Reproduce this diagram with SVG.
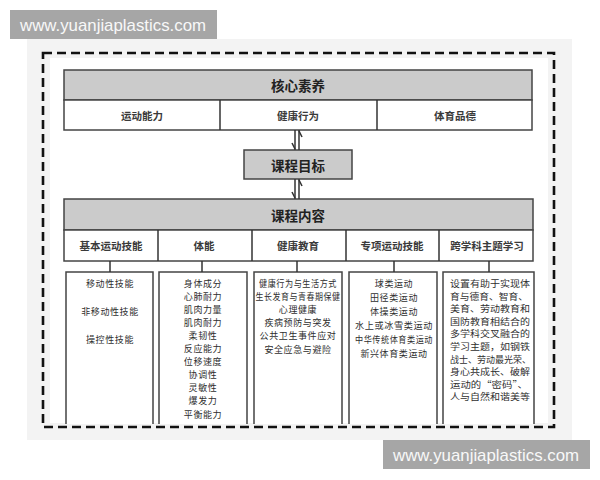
<svg xmlns="http://www.w3.org/2000/svg" width="600" height="480" viewBox="0 0 600 480">
<defs>
<style>
.bg{fill:#f3f3f3}
.wm{fill:#a6a6a6}
.wmt{fill:#f8f8f8;font-family:"Liberation Sans",Arial,sans-serif;font-size:17px}
.hdr{fill:#cbcbcb;stroke:#444;stroke-width:1.5}
.cell{fill:#fff;stroke:#444;stroke-width:1.5}
.box{fill:#fff;stroke:#444;stroke-width:1.5}
.t{font-family:"Noto Sans CJK SC","Noto Sans",sans-serif;fill:#333;text-anchor:middle;dominant-baseline:central}
.th{font-size:13.5px;font-weight:bold;fill:#222}
.tr{font-size:10.5px;font-weight:bold;fill:#3a3a3a}
.tb{font-size:9px;letter-spacing:0.6px;fill:#2e2e2e}
.tl{font-family:"Noto Sans CJK SC","Noto Sans",sans-serif;fill:#2e2e2e;font-size:8.6px;dominant-baseline:central}
.ln{stroke:#333;stroke-width:1.5;fill:none}
.dash{fill:none;stroke:#111;stroke-width:2.6;stroke-dasharray:9 5}
</style>
</defs>

<rect class="bg" x="27" y="39" width="545" height="401"/>
<rect x="50" y="58" width="498" height="365" fill="#ffffff"/>
<rect class="dash" x="43" y="53" width="511" height="374"/>

<g id="watermark-top">
<rect class="wm" x="10" y="10" width="207" height="29"/>
<text class="wmt" x="20" y="31" textLength="186" lengthAdjust="spacingAndGlyphs">www.yuanjiaplastics.com</text>
</g>
<g id="watermark-bottom">
<rect class="wm" x="383" y="440" width="207" height="29"/>
<text class="wmt" x="393" y="461" textLength="186" lengthAdjust="spacingAndGlyphs">www.yuanjiaplastics.com</text>
</g>

<g id="core">
<rect class="hdr" x="64" y="70" width="468" height="30"/>
<rect class="cell" x="64" y="100" width="468" height="30"/>
<line class="ln" x1="220" y1="100" x2="220" y2="130"/>
<line class="ln" x1="377" y1="100" x2="377" y2="130"/>
<text class="t th" x="298" y="85">核心素养</text>
<text class="t tr" x="142" y="115">运动能力</text>
<text class="t tr" x="298" y="115">健康行为</text>
<text class="t tr" x="455" y="115">体育品德</text>
</g>

<g id="goals">
<rect class="hdr" x="244" y="150" width="108" height="29"/>
<text class="t th" x="298" y="165">课程目标</text>
</g>

<g id="content">
<rect class="hdr" x="64" y="199" width="469" height="31"/>
<rect class="cell" x="64" y="230" width="469" height="31"/>
<line class="ln" x1="158" y1="230" x2="158" y2="261"/>
<line class="ln" x1="252" y1="230" x2="252" y2="261"/>
<line class="ln" x1="346" y1="230" x2="346" y2="261"/>
<line class="ln" x1="439" y1="230" x2="439" y2="261"/>
<text class="t th" x="298" y="215">课程内容</text>
<text class="t tr" x="111" y="245">基本运动技能</text>
<text class="t tr" x="204" y="245">体能</text>
<text class="t tr" x="298" y="245">健康教育</text>
<text class="t tr" x="392" y="245">专项运动技能</text>
<text class="t tr" x="487" y="245">跨学科主题学习</text>
</g>

<g id="box-basic">
<path class="box" d="M66,424 V272 H153 V424"/>
<text class="t tb" x="110" y="283">移动性技能</text>
<text class="t tb" x="110" y="311">非移动性技能</text>
<text class="t tb" x="110" y="339">操控性技能</text>
</g>

<g id="box-fitness">
<path class="box" d="M159,424 V272 H247 V424"/>
<text class="t tb" x="203" y="283">身体成分</text>
<text class="t tb" x="203" y="296.1">心肺耐力</text>
<text class="t tb" x="203" y="309.2">肌肉力量</text>
<text class="t tb" x="203" y="322.3">肌肉耐力</text>
<text class="t tb" x="203" y="335.4">柔韧性</text>
<text class="t tb" x="203" y="348.5">反应能力</text>
<text class="t tb" x="203" y="361.6">位移速度</text>
<text class="t tb" x="203" y="374.7">协调性</text>
<text class="t tb" x="203" y="387.8">灵敏性</text>
<text class="t tb" x="203" y="400.9">爆发力</text>
<text class="t tb" x="203" y="414">平衡能力</text>
</g>

<g id="box-health">
<path class="box" d="M254,424 V272 H342 V424"/>
<text class="t tb" x="298" y="283" textLength="78" lengthAdjust="spacingAndGlyphs">健康行为与生活方式</text>
<text class="t tb" x="298" y="296.2" textLength="85" lengthAdjust="spacingAndGlyphs">生长发育与青春期保健</text>
<text class="t tb" x="298" y="309.4">心理健康</text>
<text class="t tb" x="298" y="322.6">疾病预防与突发</text>
<text class="t tb" x="298" y="335.8">公共卫生事件应对</text>
<text class="t tb" x="298" y="349">安全应急与避险</text>
</g>

<g id="box-special">
<path class="box" d="M349,424 V272 H437 V424"/>
<text class="t tb" x="394" y="283">球类运动</text>
<text class="t tb" x="394" y="297">田径类运动</text>
<text class="t tb" x="394" y="311">体操类运动</text>
<text class="t tb" x="394" y="325" textLength="78" lengthAdjust="spacingAndGlyphs">水上或冰雪类运动</text>
<text class="t tb" x="394" y="339" textLength="78" lengthAdjust="spacingAndGlyphs">中华传统体育类运动</text>
<text class="t tb" x="394" y="353">新兴体育类运动</text>
</g>

<g id="box-cross">
<path class="box" d="M443,424 V272 H534 V424"/>
<text class="tl" x="450" y="283" textLength="80" lengthAdjust="spacingAndGlyphs">设置有助于实现体</text>
<text class="tl" x="450" y="295.6" textLength="78" lengthAdjust="spacingAndGlyphs">育与德育、智育、</text>
<text class="tl" x="450" y="308.2" textLength="80" lengthAdjust="spacingAndGlyphs">美育、劳动教育和</text>
<text class="tl" x="450" y="320.8" textLength="80" lengthAdjust="spacingAndGlyphs">国防教育相结合的</text>
<text class="tl" x="450" y="333.4" textLength="80" lengthAdjust="spacingAndGlyphs">多学科交叉融合的</text>
<text class="tl" x="450" y="346" textLength="80" lengthAdjust="spacingAndGlyphs">学习主题，如钢铁</text>
<text class="tl" x="450" y="358.6" textLength="81" lengthAdjust="spacingAndGlyphs">战士、劳动最光荣、</text>
<text class="tl" x="450" y="371.2" textLength="80" lengthAdjust="spacingAndGlyphs">身心共成长、破解</text>
<text class="tl" x="450" y="383.8" textLength="78" lengthAdjust="spacingAndGlyphs">运动的“密码”、</text>
<text class="tl" x="450" y="396.4" textLength="80" lengthAdjust="spacingAndGlyphs">人与自然和谐美等</text>
</g>

<g id="connectors">
<line class="ln" x1="295" y1="130" x2="295" y2="150"/>
<path class="ln" d="M292,143 L295,149"/>
<line class="ln" x1="299" y1="130" x2="299" y2="150"/>
<path class="ln" d="M299,131 L302,137"/>
<line class="ln" x1="295" y1="179" x2="295" y2="199"/>
<path class="ln" d="M292,192 L295,198"/>
<line class="ln" x1="299" y1="179" x2="299" y2="199"/>
<path class="ln" d="M299,180 L302,186"/>
<line class="ln" x1="110" y1="261" x2="110" y2="272"/>
<line class="ln" x1="202" y1="261" x2="202" y2="272"/>
<line class="ln" x1="297" y1="261" x2="297" y2="272"/>
<line class="ln" x1="394" y1="261" x2="394" y2="272"/>
<line class="ln" x1="489" y1="261" x2="489" y2="272"/>
</g>
</svg>
